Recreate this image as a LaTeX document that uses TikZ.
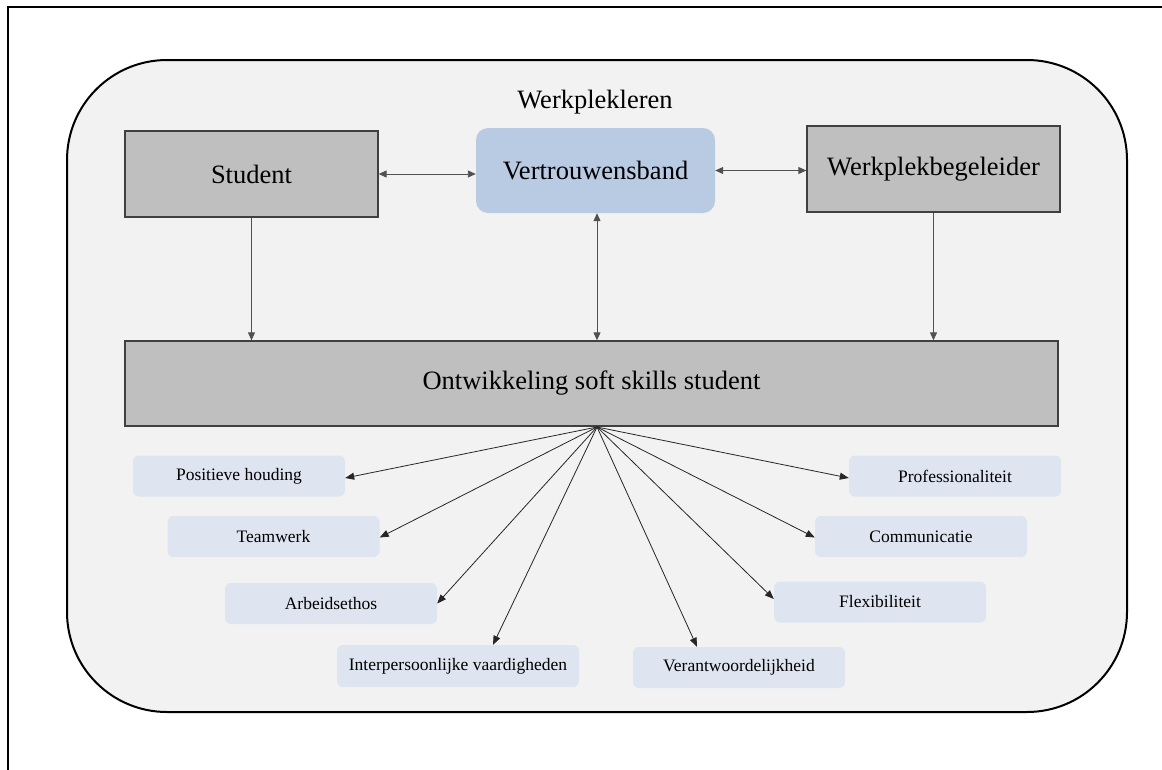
\documentclass[tikz,border=0pt]{standalone}
\usepackage{fontspec}
\setmainfont{Liberation Serif}
\usetikzlibrary{arrows.meta}

\definecolor{achtergrond}{HTML}{F2F2F2}
\definecolor{grijsvak}{HTML}{BFBFBF}
\definecolor{rand}{HTML}{404040}
\definecolor{blauwvak}{HTML}{B9CAE3}
\definecolor{skillvak}{HTML}{DEE5F0}
\definecolor{lijn}{HTML}{505050}

\tikzset{
  groot/.style={font=\fontsize{26.5}{30}\selectfont},
  klein/.style={font=\fontsize{17.5}{20}\selectfont},
  grijsbox/.style={groot, draw=rand, line width=1.3pt, fill=grijsvak, minimum height=86pt, inner sep=0pt},
  blauwbox/.style={groot, fill=blauwvak, rounded corners=12pt, minimum width=239pt, minimum height=85pt, inner sep=0pt},
  skill/.style={klein, fill=skillvak, rounded corners=6pt, minimum width=212pt, minimum height=41pt, inner sep=0pt},
  pijl/.style={-{Triangle[length=8pt,width=7pt]}, line width=0.9pt, draw=lijn},
  dubbel/.style={{Triangle[length=8pt,width=7pt]}-{Triangle[length=8pt,width=7pt]}, line width=0.9pt, draw=lijn},
  waaierpijl/.style={-{Triangle[length=9pt,width=7pt]}, line width=0.8pt, draw=black!85}
}

\begin{document}
\begin{tikzpicture}[x=1pt,y=-1pt]
\useasboundingbox (0,0) rectangle (1162,769);
\fill[white] (0,0) rectangle (1162,769);
% kader
\draw[line width=2.2pt] (8,790) -- (8,7) -- (1180,7);
\draw[line width=2pt, fill=achtergrond, rounded corners=100pt] (67,60) rectangle (1127,712);

\node[groot] (titel) at (595,102) {Werkplekleren};
\node[grijsbox, minimum width=253pt] (stud) at (251.5,174) {Student};
\node[blauwbox] (vert) at (595.5,170.5) {Vertrouwensband};
\node[grijsbox, minimum width=253pt] (wpb) at (933.5,169) {Werkplekbegeleider};
\node[grijsbox, minimum width=933pt, minimum height=85pt] (ontw) at (591.5,383.5) {Ontwikkeling soft skills student};

% soft skills
\node[skill] (pos) at (239,476) {Positieve houding};
\node[skill] (team) at (273.5,536.5) {Teamwerk};
\node[skill] (arb) at (331,603.5) {Arbeidsethos};
\node[skill, minimum width=242pt, minimum height=42pt] (inter) at (458,666) {Interpersoonlijke vaardigheden};
\node[skill] (verant) at (739,667.5) {Verantwoordelijkheid};
\node[skill] (flex) at (880,602) {Flexibiliteit};
\node[skill] (comm) at (921,536.5) {Communicatie};
\node[skill] (prof) at (955,476) {Professionaliteit};

% verbindingen
\draw[dubbel] (stud.east) -- (stud.east -| vert.west);
\draw[dubbel] (vert.east) -- (vert.east -| wpb.west);
\draw[dubbel] ([xshift=1.5pt]vert.south) -- ([xshift=1.5pt]vert.south |- ontw.north);
\draw[pijl] (stud.south) -- (stud.south |- ontw.north);
\draw[pijl] (wpb.south) -- (wpb.south |- ontw.north);

\coordinate (waaier) at (597,427);
\draw[waaierpijl] (waaier) -- ([yshift=-2pt]pos.east);
\draw[waaierpijl] (waaier) -- ([yshift=-1pt]team.east);
\draw[waaierpijl] (waaier) -- (arb.east);
\draw[waaierpijl] (waaier) -- ([xshift=35pt]inter.north);
\draw[waaierpijl] (waaier) -- ([xshift=-42pt]verant.north);
\draw[waaierpijl] (waaier) -- ([yshift=3pt]flex.west);
\draw[waaierpijl] (waaier) -- ([yshift=-1pt]comm.west);
\draw[waaierpijl] (waaier) -- ([yshift=-2pt]prof.west);
\end{tikzpicture}
\end{document}
